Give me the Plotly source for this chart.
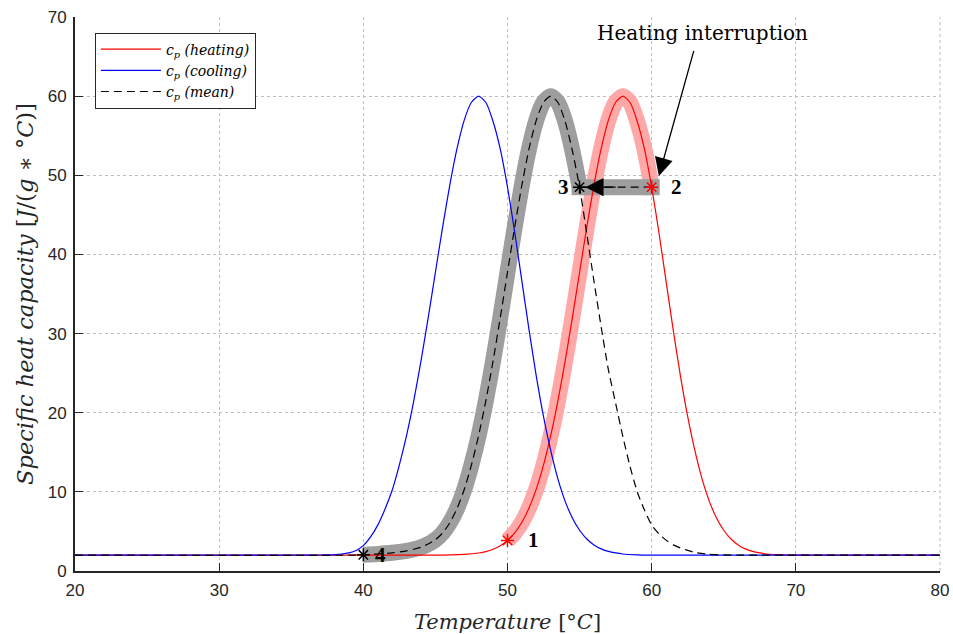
import numpy as np
import plotly.graph_objects as go

# ---- data ----
heat_T = [20, 44, 45, 46, 47, 48, 48.5, 49, 49.5, 50, 50.5, 51, 51.5, 52, 52.5, 53, 53.5, 54, 54.5,
          55, 55.5, 56, 56.5, 57, 57.5, 58, 58.5, 59, 59.5, 60, 60.5, 61, 61.5, 62, 62.5, 63, 63.5,
          64, 64.5, 65, 65.5, 66, 66.5, 67, 67.5, 68, 69, 70, 80]
heat_cp = [2.0, 2.0, 2.01, 2.03, 2.09, 2.27, 2.45, 2.75, 3.19, 3.86, 4.82, 6.16, 7.98, 10.37, 13.41,
           17.13, 21.53, 26.54, 32.02, 37.75, 43.45, 48.78, 53.39, 56.97, 59.23, 60.0, 59.2, 56.8,
           53.3, 48.5, 42.8, 36.6, 30.4, 24.6, 19.5, 15.2, 11.6, 8.8, 6.7, 5.15, 4.05, 3.3, 2.8,
           2.47, 2.28, 2.15, 2.05, 2.01, 2.0]

cool_T = [20, 36, 37, 38, 38.5, 39, 39.5, 40, 40.5, 41, 41.5, 42, 42.5, 43, 43.5, 44, 44.5, 45,
          45.5, 46, 46.5, 47, 47.5, 48, 48.5, 49, 49.5, 50, 50.5, 51, 51.5, 52, 52.5, 53, 53.5,
          54, 54.5, 55, 55.5, 56, 56.5, 57, 57.5, 58, 59, 60, 80]
cool_cp = [2.0, 2.0, 2.02, 2.08, 2.15, 2.3, 2.6, 3.2, 4.3, 5.8, 7.8, 10.2, 13.41, 17.13, 21.53,
           26.54, 32.02, 37.75, 43.45, 48.78, 53.39, 56.97, 59.23, 60.0, 59.2, 56.8, 53.3, 48.5,
           42.8, 36.6, 30.4, 24.6, 19.5, 15.2, 11.6, 8.8, 6.7, 5.15, 4.05, 3.3, 2.8, 2.47, 2.28,
           2.15, 2.05, 2.01, 2.0]

mean_T = [20, 39, 40, 41, 42, 43, 43.5, 44, 44.5, 45, 45.5, 46, 46.5, 47, 47.5, 48, 48.5, 49,
          49.5, 50, 50.5, 51, 51.5, 52, 52.5, 53, 53.5, 54, 54.5, 55, 55.5, 56, 56.5, 57, 57.5,
          58, 58.5, 59, 59.5, 60, 60.5, 61, 61.5, 62, 62.5, 63, 64, 65, 66, 80]
mean_cp = [2.0, 2.0, 2.05, 2.15, 2.3, 2.55, 2.75, 3.0, 3.4, 3.95, 4.8, 6.1, 7.9, 10.3, 13.41,
           17.13, 21.53, 26.54, 32.02, 37.75, 43.45, 48.78, 53.39, 56.97, 59.23, 60.0, 59.2,
           56.8, 53.1, 48.5, 42.6, 36.6, 30.8, 25.4, 21.2, 17.0, 13.2, 10.0, 7.7, 5.8, 4.7, 3.9,
           3.3, 2.9, 2.6, 2.35, 2.1, 2.03, 2.01, 2.0]

# key points of the cycle: 1 start heating, 2 interruption, 3 jump to mean, 4 end
point_labels = ["1", "2", "3", "4"]
point_T = [50, 60, 55, 40]
point_curve = ["heat", "heat", "mean", "mean"]

x_ticks = [20, 30, 40, 50, 60, 70, 80]
y_ticks = [0, 10, 20, 30, 40, 50, 60, 70]

# ---- helpers ----
curves = {"heat": (np.array(heat_T), np.array(heat_cp)),
          "mean": (np.array(mean_T), np.array(mean_cp))}
pts_y = [float(np.interp(t, *curves[c])) for t, c in zip(point_T, point_curve)]

SERIF = "DejaVu Serif"
LSERIF = "Liberation Serif"
INK = "rgb(38,38,38)"
RED_BAND = "rgb(255,168,168)"
GRAY_BAND = "rgb(158,158,158)"
BAND_W = 16
fig = go.Figure()

# highlighted band along the heating curve (1 -> 2)
hT, hC = curves["heat"]
m = (hT >= point_T[0]) & (hT <= point_T[1])
fig.add_trace(go.Scatter(x=hT[m], y=hC[m], mode="lines", showlegend=False, hoverinfo="skip",
                         line=dict(color=RED_BAND, width=BAND_W, shape="spline", smoothing=0.7)))

# highlighted band 2 -> 3 (horizontal, square ends)
fig.add_trace(go.Scatter(x=[point_T[1], point_T[2]], y=[pts_y[1], pts_y[2]], mode="lines+markers",
                         showlegend=False, hoverinfo="skip",
                         line=dict(color=GRAY_BAND, width=BAND_W),
                         marker=dict(symbol="square", size=BAND_W, color=GRAY_BAND, line=dict(width=0))))

# highlighted band 3 -> 4 along the mean curve
mT, mC = curves["mean"]
mm = (mT >= point_T[3]) & (mT <= point_T[2])
fig.add_trace(go.Scatter(x=mT[mm][::-1], y=mC[mm][::-1], mode="lines", showlegend=False, hoverinfo="skip",
                         line=dict(color=GRAY_BAND, width=BAND_W, shape="spline", smoothing=0.7)))

# main curves
fig.add_trace(go.Scatter(x=heat_T, y=heat_cp, mode="lines",
                         line=dict(color="#ff0000", width=1.2, shape="spline", smoothing=0.6),
                         name="<i>c</i><sub><i>p</i></sub> <i>(heating)</i>"))
fig.add_trace(go.Scatter(x=cool_T, y=cool_cp, mode="lines",
                         line=dict(color="#0000ff", width=1.2, shape="spline", smoothing=0.6),
                         name="<i>c</i><sub><i>p</i></sub> <i>(cooling)</i>"))
fig.add_trace(go.Scatter(x=mean_T, y=mean_cp, mode="lines",
                         line=dict(color="black", width=1.2, dash="8px,5px", shape="spline", smoothing=0.6),
                         name="<i>c</i><sub><i>p</i></sub> <i>(mean)</i>"))

# dashed connector 2 -> 3
fig.add_trace(go.Scatter(x=[point_T[1], point_T[2]], y=[pts_y[1], pts_y[2]], mode="lines",
                         showlegend=False, hoverinfo="skip",
                         line=dict(color="black", width=1.2, dash="8px,5px")))

# markers
pcol = ["#ff0000" if c == "heat" else "black" for c in point_curve]
fig.add_trace(go.Scatter(x=point_T, y=pts_y, mode="markers", showlegend=False, hoverinfo="skip",
                         marker=dict(symbol="asterisk-open", size=11, color=pcol,
                                     line=dict(color=pcol, width=1.5))))

# point number labels
shifts = [26, 25, -16, 17]
for lab, t, yv, sx in zip(point_labels, point_T, pts_y, shifts):
    fig.add_annotation(x=t, y=yv, text="<b>" + lab + "</b>", showarrow=False, xshift=sx,
                       font=dict(family=LSERIF, size=21, color="black"))

# arrow head on 2 -> 3
fig.add_annotation(x=55.4, y=pts_y[2], ax=57.6, ay=pts_y[2], axref="x", ayref="y", xref="x", yref="y",
                   text="", showarrow=True, arrowhead=2, arrowsize=2.8, arrowwidth=1.3, arrowcolor="black")

# heating interruption annotation
fig.add_annotation(x=60.5, y=49.9, ax=62.95, ay=65.9, axref="x", ayref="y", xref="x", yref="y",
                   text="", showarrow=True, arrowhead=2, arrowsize=2.8, arrowwidth=1.3, arrowcolor="black")
fig.add_annotation(x=63.5, y=68.0, xref="x", yref="y", text="Heating interruption", showarrow=False,
                   font=dict(family=SERIF, size=20, color="black"))

axis_common = dict(showgrid=True, gridcolor="rgb(190,190,190)", griddash="dot", gridwidth=1,
                   showline=True, linecolor=INK, linewidth=2, ticks="inside", automargin=False,
                   ticklen=8, tickwidth=1.2, tickcolor=INK, zeroline=False,
                   tickfont=dict(family="Liberation Sans", size=17, color=INK))

fig.update_xaxes(range=[20, 80], tickvals=x_ticks, ticklabelstandoff=3, **axis_common,
                 title=dict(text="<i>Temperature</i> [°<i>C</i>]", standoff=16,
                            font=dict(family=SERIF, size=21, color=INK)))
fig.update_yaxes(range=[0, 70], tickvals=y_ticks, ticklabelstandoff=3, **axis_common,
                 title=dict(text="<i>Specific heat capacity</i> [<i>J</i>/(<i>g</i> ∗ °<i>C</i>)]", standoff=8,
                            font=dict(family=SERIF, size=22.5, color=INK)))

# dotted grid line on the right border (x = 80)
fig.add_shape(type="line", xref="paper", yref="paper", x0=1, x1=1, y0=0, y1=1,
              line=dict(color="rgb(190,190,190)", width=1, dash="dot"), layer="below")

fig.update_layout(width=953, height=634, margin=dict(l=75, r=13, t=17, b=63),
                  plot_bgcolor="white", paper_bgcolor="white",
                  legend=dict(x=0.023, y=0.972, xanchor="left", yanchor="top", bgcolor="white",
                              bordercolor=INK, borderwidth=1, itemwidth=60,
                              font=dict(family=SERIF, size=14, color="black"), tracegroupgap=0))

fig.write_html("out.html")
